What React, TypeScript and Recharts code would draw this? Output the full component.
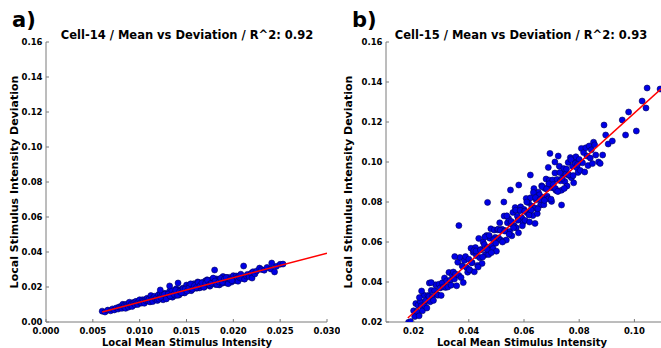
import { ScatterChart, Scatter, XAxis, YAxis } from "recharts";

// Cell-14: local mean (x) vs local deviation (y)
const cell14Data: [number, number][] = [
  [0.0060, 0.0062], [0.0063, 0.0057], [0.0066, 0.0068], [0.0069, 0.0064], [0.0071, 0.0075],
  [0.0073, 0.0069], [0.0075, 0.0080], [0.0077, 0.0074], [0.0078, 0.0086],
  [0.0080, 0.0089], [0.0081, 0.0078], [0.0082, 0.0101], [0.0083, 0.0086], [0.0084, 0.0097],
  [0.0085, 0.0078], [0.0086, 0.0102], [0.0087, 0.0095], [0.0088, 0.0085], [0.0089, 0.0113],
  [0.0090, 0.0094], [0.0091, 0.0102], [0.0092, 0.0089], [0.0093, 0.0111], [0.0094, 0.0109],
  [0.0095, 0.0099], [0.0096, 0.0118], [0.0097, 0.0108], [0.0098, 0.0100], [0.0099, 0.0118],
  [0.0100, 0.0127], [0.0101, 0.0110], [0.0102, 0.0108], [0.0103, 0.0127], [0.0104, 0.0120],
  [0.0105, 0.0107], [0.0106, 0.0128], [0.0107, 0.0121], [0.0108, 0.0136], [0.0109, 0.0120],
  [0.0110, 0.0132], [0.0111, 0.0115], [0.0112, 0.0151], [0.0113, 0.0130], [0.0114, 0.0117],
  [0.0115, 0.0141], [0.0116, 0.0147], [0.0117, 0.0129], [0.0118, 0.0139], [0.0119, 0.0123],
  [0.0120, 0.0156], [0.0121, 0.0137], [0.0122, 0.0163], [0.0123, 0.0134], [0.0124, 0.0151],
  [0.0125, 0.0127], [0.0126, 0.0158], [0.0127, 0.0164], [0.0128, 0.0148], [0.0129, 0.0142],
  [0.0130, 0.0160], [0.0131, 0.0144], [0.0132, 0.0176], [0.0133, 0.0155], [0.0134, 0.0170],
  [0.0135, 0.0142], [0.0136, 0.0176], [0.0137, 0.0165], [0.0138, 0.0151], [0.0139, 0.0190],
  [0.0140, 0.0162], [0.0141, 0.0173], [0.0142, 0.0154], [0.0143, 0.0184], [0.0144, 0.0181],
  [0.0145, 0.0166], [0.0146, 0.0193], [0.0147, 0.0177], [0.0148, 0.0166], [0.0149, 0.0190],
  [0.0150, 0.0211], [0.0151, 0.0186], [0.0152, 0.0183], [0.0153, 0.0209], [0.0154, 0.0199],
  [0.0155, 0.0179], [0.0156, 0.0209], [0.0157, 0.0198], [0.0158, 0.0219], [0.0159, 0.0195],
  [0.0160, 0.0210], [0.0161, 0.0193], [0.0162, 0.0229], [0.0163, 0.0208], [0.0164, 0.0195],
  [0.0165, 0.0219], [0.0166, 0.0225], [0.0167, 0.0207], [0.0168, 0.0217], [0.0169, 0.0201],
  [0.0170, 0.0234], [0.0171, 0.0215], [0.0172, 0.0241], [0.0173, 0.0212], [0.0174, 0.0229],
  [0.0175, 0.0205], [0.0176, 0.0236], [0.0177, 0.0242], [0.0178, 0.0226], [0.0179, 0.0220],
  [0.0180, 0.0238], [0.0181, 0.0214], [0.0182, 0.0246], [0.0183, 0.0225], [0.0184, 0.0240],
  [0.0185, 0.0212], [0.0186, 0.0246], [0.0187, 0.0235], [0.0188, 0.0221], [0.0189, 0.0260],
  [0.0190, 0.0232], [0.0191, 0.0243], [0.0192, 0.0224], [0.0193, 0.0254], [0.0194, 0.0251],
  [0.0195, 0.0228], [0.0196, 0.0255], [0.0197, 0.0239], [0.0198, 0.0228], [0.0199, 0.0252],
  [0.0200, 0.0265], [0.0201, 0.0240], [0.0202, 0.0237], [0.0203, 0.0263], [0.0204, 0.0253],
  [0.0205, 0.0233], [0.0206, 0.0263], [0.0207, 0.0252], [0.0208, 0.0273], [0.0209, 0.0249],
  [0.01205, 0.0130], [0.01225, 0.0141], [0.01245, 0.0160], [0.01265, 0.0159], [0.01285, 0.0132],
  [0.01305, 0.0160], [0.01325, 0.0148], [0.01345, 0.0180], [0.01365, 0.0159], [0.01385, 0.0182],
  [0.01405, 0.0153], [0.01425, 0.0174], [0.01445, 0.0167], [0.01465, 0.0190], [0.01485, 0.0188],
  [0.01505, 0.0176], [0.01525, 0.0194], [0.01545, 0.0218], [0.01565, 0.0187], [0.01585, 0.0208],
  [0.01605, 0.0197], [0.01625, 0.0226], [0.01645, 0.0208], [0.01665, 0.0224], [0.01685, 0.0198],
  [0.01705, 0.0222], [0.01725, 0.0237], [0.01745, 0.0214], [0.01765, 0.0222], [0.01785, 0.0251],
  [0.01805, 0.0234], [0.01825, 0.0215], [0.01845, 0.0229], [0.01865, 0.0250], [0.01885, 0.0227],
  [0.01905, 0.0246], [0.01925, 0.0254], [0.01945, 0.0219], [0.01965, 0.0243], [0.01985, 0.0236],
  [0.0122, 0.0183], [0.0132, 0.0206], [0.0141, 0.0223], [0.0180, 0.0297],
  [0.0211, 0.0320], [0.0212, 0.0245], [0.0214, 0.0262], [0.0215, 0.0272], [0.0217, 0.0258],
  [0.0219, 0.0278], [0.0220, 0.0251], [0.0221, 0.0287], [0.0223, 0.0275], [0.0225, 0.0292],
  [0.0228, 0.0308], [0.0230, 0.0300], [0.0233, 0.0296], [0.0236, 0.0312], [0.0240, 0.0303],
  [0.0241, 0.0337], [0.0244, 0.0286], [0.0246, 0.0318], [0.0250, 0.0330], [0.0253, 0.0331],
];
const cell14Fit: [number, number][] = [[0.006, 0.0057], [0.030, 0.0393]];

// Cell-15: local mean (x) vs local deviation (y)
const cell15Data: [number, number][] = [
  [0.0200, 0.0256], [0.0204, 0.0227], [0.0208, 0.0292], [0.0212, 0.0253], [0.0216, 0.0284],
  [0.0220, 0.0231], [0.0224, 0.0302], [0.0228, 0.0281], [0.0232, 0.0256], [0.0236, 0.0335],
  [0.0240, 0.0282], [0.0244, 0.0307], [0.0248, 0.0270], [0.0252, 0.0333], [0.0256, 0.0328],
  [0.0260, 0.0301], [0.0264, 0.0358], [0.0268, 0.0327], [0.0272, 0.0308], [0.0276, 0.0357],
  [0.0280, 0.0386], [0.0284, 0.0339], [0.0288, 0.0334], [0.0292, 0.0389], [0.0296, 0.0370],
  [0.0300, 0.0333], [0.0304, 0.0396], [0.0308, 0.0375], [0.0312, 0.0420], [0.0316, 0.0373],
  [0.0320, 0.0406], [0.0324, 0.0375], [0.0328, 0.0448], [0.0332, 0.0409], [0.0336, 0.0384],
  [0.0340, 0.0435], [0.0344, 0.0450], [0.0348, 0.0415],
  [0.0352, 0.0440], [0.0356, 0.0381], [0.0360, 0.0499], [0.0364, 0.0433], [0.0368, 0.0523],
  [0.0372, 0.0422], [0.0376, 0.0480], [0.0380, 0.0397], [0.0384, 0.0508], [0.0388, 0.0527],
  [0.0392, 0.0472], [0.0396, 0.0449], [0.0400, 0.0514], [0.0404, 0.0459], [0.0408, 0.0569],
  [0.0412, 0.0497], [0.0416, 0.0548], [0.0420, 0.0451], [0.0424, 0.0572], [0.0428, 0.0531],
  [0.0432, 0.0483], [0.0436, 0.0618], [0.0440, 0.0521], [0.0444, 0.0562], [0.0448, 0.0493],
  [0.0452, 0.0600], [0.0456, 0.0587], [0.0460, 0.0536], [0.0464, 0.0632], [0.0468, 0.0574],
  [0.0472, 0.0537], [0.0476, 0.0619], [0.0480, 0.0666], [0.0484, 0.0580], [0.0488, 0.0567],
  [0.0492, 0.0660], [0.0496, 0.0623], [0.0500, 0.0554], [0.0504, 0.0661], [0.0508, 0.0620],
  [0.0512, 0.0696], [0.0516, 0.0609], [0.0520, 0.0664], [0.0524, 0.0605], [0.0528, 0.0730],
  [0.0532, 0.0657], [0.0536, 0.0610], [0.0540, 0.0696], [0.0544, 0.0718], [0.0548, 0.0653],
  [0.0552, 0.0690], [0.0556, 0.0631], [0.0560, 0.0748], [0.0564, 0.0682], [0.0568, 0.0772],
  [0.0572, 0.0671], [0.0576, 0.0729], [0.0580, 0.0646], [0.0584, 0.0757], [0.0588, 0.0776],
  [0.0592, 0.0721], [0.0596, 0.0698], [0.0600, 0.0763], [0.0604, 0.0708], [0.0608, 0.0818],
  [0.0612, 0.0746], [0.0616, 0.0797], [0.0620, 0.0700], [0.0624, 0.0821], [0.0628, 0.0780],
  [0.0632, 0.0732], [0.0636, 0.0867], [0.0640, 0.0770], [0.0644, 0.0811], [0.0648, 0.0742],
  [0.0652, 0.0849], [0.0656, 0.0836], [0.0660, 0.0785], [0.0664, 0.0881], [0.0668, 0.0823],
  [0.0672, 0.0786], [0.0676, 0.0868], [0.0680, 0.0915], [0.0684, 0.0829], [0.0688, 0.0816],
  [0.0692, 0.0909], [0.0696, 0.0872], [0.0700, 0.0803], [0.0704, 0.0910], [0.0708, 0.0869],
  [0.0712, 0.0945], [0.0716, 0.0858], [0.0720, 0.0913], [0.0724, 0.0854], [0.0728, 0.0979],
  [0.0732, 0.0906], [0.0736, 0.0859], [0.0740, 0.0945], [0.0744, 0.0967], [0.0748, 0.0902],
  [0.0752, 0.0939], [0.0756, 0.0880], [0.0760, 0.0998], [0.0764, 0.0932], [0.0768, 0.1022],
  [0.0772, 0.0921], [0.0776, 0.0979], [0.0780, 0.0896], [0.0784, 0.1007], [0.0788, 0.1026],
  [0.0792, 0.0971], [0.0796, 0.0948], [0.0800, 0.1013], [0.0804, 0.0958], [0.0808, 0.1068],
  [0.0812, 0.0996], [0.0816, 0.1047], [0.0820, 0.0950], [0.0824, 0.1071], [0.0828, 0.1030],
  [0.0832, 0.0982], [0.0836, 0.1080], [0.0840, 0.1020], [0.0844, 0.1061], [0.0848, 0.0992],
  [0.0852, 0.1099], [0.0856, 0.1086], [0.0860, 0.1035],
  [0.0402, 0.0462], [0.0410, 0.0496], [0.0418, 0.0557], [0.0426, 0.0555], [0.0434, 0.0475],
  [0.0442, 0.0560], [0.0450, 0.0525], [0.0458, 0.0625], [0.0466, 0.0563], [0.0474, 0.0633],
  [0.0482, 0.0547], [0.0490, 0.0611], [0.0498, 0.0594], [0.0506, 0.0664], [0.0514, 0.0659],
  [0.0522, 0.0600], [0.0530, 0.0655], [0.0538, 0.0731], [0.0546, 0.0639], [0.0554, 0.0703],
  [0.0562, 0.0671], [0.0570, 0.0759], [0.0578, 0.0709], [0.0586, 0.0758], [0.0594, 0.0681],
  [0.0602, 0.0754], [0.0610, 0.0800], [0.0618, 0.0735], [0.0626, 0.0760], [0.0634, 0.0848],
  [0.0642, 0.0822], [0.0650, 0.0766], [0.0658, 0.0812], [0.0666, 0.0876], [0.0674, 0.0808],
  [0.0682, 0.0866], [0.0690, 0.0891], [0.0698, 0.0814], [0.0706, 0.0887], [0.0714, 0.0867],
  [0.0722, 0.0853], [0.0730, 0.0947], [0.0738, 0.0918], [0.0746, 0.0868], [0.0754, 0.0965],
  [0.0762, 0.0936], [0.0770, 0.1012], [0.0778, 0.0932], [0.0786, 0.0993], [0.0794, 0.0988],
  [0.0182, 0.0199], [0.0190, 0.0202], [0.0221, 0.0322], [0.0229, 0.0355], [0.0257, 0.0395],
  [0.0264, 0.0397], [0.0349, 0.0527], [0.0364, 0.0682], [0.0468, 0.0798], [0.0527, 0.0800],
  [0.0551, 0.0860], [0.0581, 0.0885], [0.0623, 0.0935], [0.0688, 0.0973], [0.0694, 0.1043],
  [0.0712, 0.1000], [0.0724, 0.1030], [0.0736, 0.0785], [0.0640, 0.0693],
  [0.0870, 0.1000], [0.0876, 0.0993], [0.0885, 0.1035], [0.0890, 0.1185], [0.0896, 0.1135],
  [0.0905, 0.1090], [0.0920, 0.1105], [0.0956, 0.1210], [0.0968, 0.1135], [0.0979, 0.1250],
  [0.1007, 0.1155], [0.1028, 0.1305], [0.1042, 0.1270], [0.1046, 0.1370], [0.1093, 0.1365],
];
const cell15Fit: [number, number][] = [[0.0179, 0.0220], [0.1096, 0.1365]];

const cell14XTicks = [0, 0.005, 0.01, 0.015, 0.02, 0.025, 0.03];
const cell14YTicks = [0, 0.02, 0.04, 0.06, 0.08, 0.1, 0.12, 0.14, 0.16];
const cell15XTicks = [0.02, 0.04, 0.06, 0.08, 0.1];
const cell15YTicks = [0.02, 0.04, 0.06, 0.08, 0.1, 0.12, 0.14, 0.16];

const FONT = "'DejaVu Sans', sans-serif";
const FRAME = "#7a7a7a";
const TICK_LEN = 3;

const toPoints = (rows: [number, number][]) => rows.map(([x, y]) => ({ x, y }));

const Dot = (p: any) => (
  <circle cx={p.cx} cy={p.cy} r={3} fill="#0000e6" stroke="#00005a" strokeWidth={0.6} />
);

const BottomTick = ({ x, y, payload, digits }: any) => (
  <g>
    <line x1={x} x2={x} y1={y} y2={y - TICK_LEN} stroke={FRAME} />
    <text x={x} y={y + 11.5} textAnchor="middle" fontSize={8.5} fontWeight="bold" fontFamily={FONT} fill="#000">
      {payload.value.toFixed(digits)}
    </text>
  </g>
);

const LeftTick = ({ x, y, payload }: any) => (
  <g>
    <line x1={x} x2={x + TICK_LEN} y1={y} y2={y} stroke={FRAME} />
    <text x={x - 3.5} y={y + 3} textAnchor="end" fontSize={8.5} fontWeight="bold" fontFamily={FONT} fill="#000">
      {payload.value.toFixed(2)}
    </text>
  </g>
);

const TopTick = ({ x, y }: any) => <line x1={x} x2={x} y1={y} y2={y + TICK_LEN} stroke={FRAME} />;
const RightTick = ({ x, y }: any) => <line x1={x} x2={x - TICK_LEN} y1={y} y2={y} stroke={FRAME} />;

type PanelProps = {
  left: number;
  width: number;
  marginRight: number;
  data: [number, number][];
  fit: [number, number][];
  xDomain: [number, number];
  yDomain: [number, number];
  xTicks: number[];
  yTicks: number[];
  xDigits: number;
};

const Panel = ({ left, width, marginRight, data, fit, xDomain, yDomain, xTicks, yTicks, xDigits }: PanelProps) => (
  <div style={{ position: "absolute", left, top: 0 }}>
    <ScatterChart width={width} height={348} margin={{ top: 42, right: marginRight, bottom: 6, left: 6 }}>
      <XAxis
        xAxisId="b" dataKey="x" type="number" domain={xDomain} ticks={xTicks} interval={0}
        allowDataOverflow height={20} tickSize={0} tickMargin={0} tickLine={false}
        axisLine={{ stroke: FRAME }} tick={(p: any) => <BottomTick {...p} digits={xDigits} />}
      />
      <XAxis
        xAxisId="t" orientation="top" type="number" domain={xDomain} ticks={xTicks} interval={0}
        allowDataOverflow height={0} tickSize={0} tickMargin={0} tickLine={false}
        axisLine={{ stroke: FRAME }} tick={(p: any) => <TopTick {...p} />}
      />
      <YAxis
        yAxisId="l" dataKey="y" type="number" domain={yDomain} ticks={yTicks} interval={0}
        allowDataOverflow width={40} tickSize={0} tickMargin={0} tickLine={false}
        axisLine={{ stroke: FRAME }} tick={(p: any) => <LeftTick {...p} />}
      />
      <YAxis
        yAxisId="r" orientation="right" type="number" domain={yDomain} ticks={yTicks} interval={0}
        allowDataOverflow width={0} tickSize={0} tickMargin={0} tickLine={false}
        axisLine={{ stroke: FRAME }} tick={(p: any) => <RightTick {...p} />}
      />
      <Scatter xAxisId="b" yAxisId="l" data={toPoints(data)} shape={Dot} isAnimationActive={false} />
      <Scatter
        xAxisId="b" yAxisId="l" data={toPoints(fit)} line={{ stroke: "#ff0000", strokeWidth: 1.5 }}
        shape={() => <g />} isAnimationActive={false}
      />
    </ScatterChart>
  </div>
);

const titleStyle = { fontSize: 11.5, fontWeight: "bold" as const, fontFamily: FONT };
const labelStyle = { fontSize: 10, fontWeight: "bold" as const, fontFamily: FONT };
const yLabelStyle = { fontSize: 11, fontWeight: "bold" as const, fontFamily: FONT };

export default function App() {
  return (
    <div style={{ position: "absolute", left: 0, top: 0, width: 661, height: 348, overflow: "hidden", background: "#fff" }}>
      <Panel
        left={0} width={340} marginRight={13} data={cell14Data} fit={cell14Fit}
        xDomain={[0, 0.03]} yDomain={[0, 0.16]} xTicks={cell14XTicks} yTicks={cell14YTicks} xDigits={3}
      />
      <Panel
        left={340} width={330} marginRight={8} data={cell15Data} fit={cell15Fit}
        xDomain={[0.01, 0.11]} yDomain={[0.02, 0.16]} xTicks={cell15XTicks} yTicks={cell15YTicks} xDigits={2}
      />
      <svg width={661} height={348} style={{ position: "absolute", left: 0, top: 0, pointerEvents: "none" }}>
        <text x={12} y={27} fontSize={21} fontWeight="bold" fontFamily={FONT}>a)</text>
        <text x={352} y={27} fontSize={21} fontWeight="bold" fontFamily={FONT}>b)</text>
        <text x={187} y={39} textAnchor="middle" {...titleStyle}>Cell-14 / Mean vs Deviation / R^2: 0.92</text>
        <text x={521} y={39} textAnchor="middle" {...titleStyle}>Cell-15 / Mean vs Deviation / R^2: 0.93</text>
        <text x={187} y={346} textAnchor="middle" {...labelStyle}>Local Mean Stimulus Intensity</text>
        <text x={522} y={346} textAnchor="middle" {...labelStyle}>Local Mean Stimulus Intensity</text>
        <text transform="translate(18,182) rotate(-90)" textAnchor="middle" {...yLabelStyle}>Local Stimulus Intensity Deviation</text>
        <text transform="translate(352,182) rotate(-90)" textAnchor="middle" {...yLabelStyle}>Local Stimulus Intensity Deviation</text>
      </svg>
    </div>
  );
}
